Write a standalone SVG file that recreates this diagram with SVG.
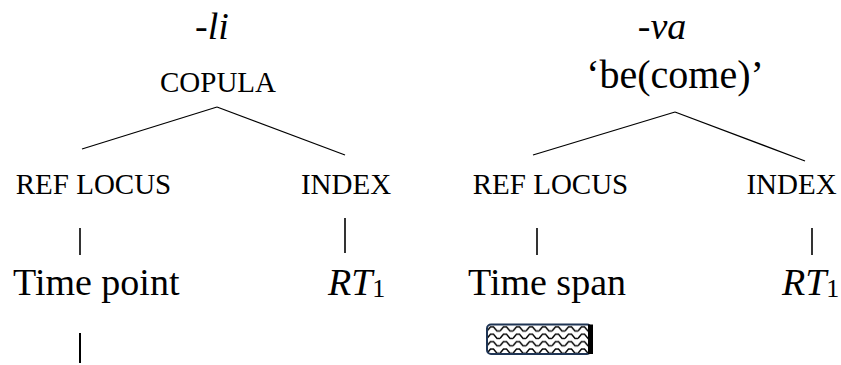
<svg xmlns="http://www.w3.org/2000/svg" width="841" height="365" viewBox="0 0 841 365">
<defs>
<pattern id="wave" x="487" y="325" width="13" height="7.4" patternUnits="userSpaceOnUse">
<polyline points="0,6 3.5,1.8 6.5,1.8 10,6 13,6" fill="none" stroke="#000" stroke-width="1.5"/>
</pattern>
</defs>
<rect width="841" height="365" fill="#fff"/>
<g id="left-tree">
<g id="li"><text x="212" y="39" text-anchor="middle" font-size="38" font-style="italic" font-family="Times New Roman, Liberation Serif, serif">-li</text></g>
<g id="copula"><text x="218" y="92" text-anchor="middle" font-size="29" font-family="Times New Roman, Liberation Serif, serif">COPULA</text></g>
<g id="refloc-l"><text x="93.5" y="194" text-anchor="middle" font-size="29" font-family="Times New Roman, Liberation Serif, serif">REF LOCUS</text></g>
<g id="index-l"><text x="346" y="194" text-anchor="middle" font-size="29" font-family="Times New Roman, Liberation Serif, serif">INDEX</text></g>
<g id="timepoint"><text x="13" y="295" font-size="38" font-family="Times New Roman, Liberation Serif, serif">Time point</text></g>
<g id="rt-l"><text x="328" y="295" font-size="38" font-style="italic" font-family="Times New Roman, Liberation Serif, serif">RT<tspan font-size="26" font-style="normal" dy="2">1</tspan></text></g>
</g>
<g id="right-tree">
<g id="va"><text x="662" y="39" text-anchor="middle" font-size="38" font-style="italic" font-family="Times New Roman, Liberation Serif, serif">-va</text></g>
<g id="become"><text x="675" y="88" text-anchor="middle" font-size="40" font-family="Times New Roman, Liberation Serif, serif">‘be(come)’</text></g>
<g id="refloc-r"><text x="550.5" y="194" text-anchor="middle" font-size="29" font-family="Times New Roman, Liberation Serif, serif">REF LOCUS</text></g>
<g id="index-r"><text x="791.5" y="194" text-anchor="middle" font-size="29" font-family="Times New Roman, Liberation Serif, serif">INDEX</text></g>
<g id="timespan"><text x="468" y="295" font-size="38" font-family="Times New Roman, Liberation Serif, serif">Time span</text></g>
<g id="rt-r"><text x="782" y="295" font-size="38" font-style="italic" font-family="Times New Roman, Liberation Serif, serif">RT<tspan font-size="26" font-style="normal" dy="2">1</tspan></text></g>
<g id="spanbox">
<rect x="487" y="324.5" width="104" height="29.5" rx="4" fill="url(#wave)" stroke="#1f3555" stroke-width="2"/>
<rect x="588" y="324.5" width="5" height="29.5" fill="#000"/>
</g>
</g>
<g id="connectors" stroke="#000" fill="none">
<g stroke-width="1.3">
<line x1="82" y1="149" x2="217" y2="107"/>
<line x1="217" y1="107" x2="345" y2="155"/>
<line x1="533" y1="155" x2="675" y2="112"/>
<line x1="675" y1="112" x2="805" y2="161"/>
</g>
<g stroke-width="1.6">
<line x1="80" y1="228" x2="80" y2="255"/>
<line x1="345" y1="218" x2="345" y2="253"/>
<line x1="537" y1="228" x2="537" y2="255"/>
<line x1="812" y1="228" x2="812" y2="255"/>
<line x1="80" y1="333" x2="80" y2="363" stroke-width="2"/>
</g>
</g>
</svg>
